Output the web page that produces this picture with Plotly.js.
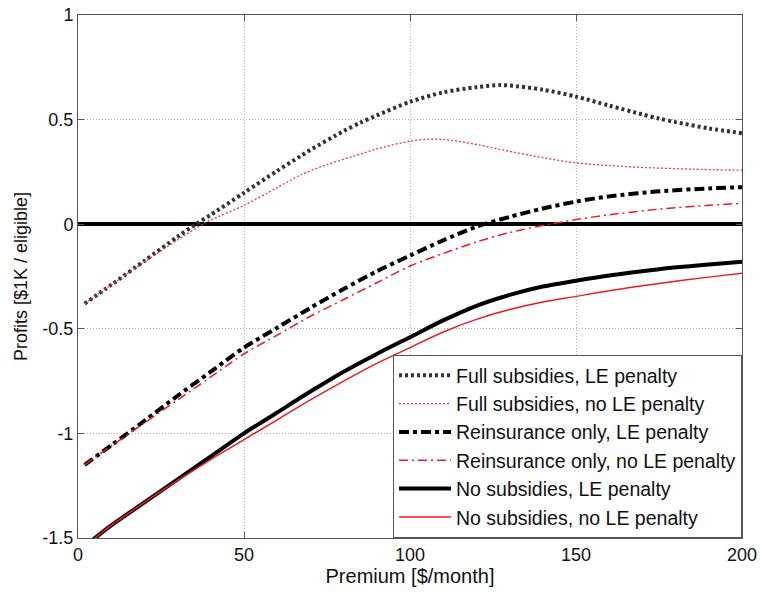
<!DOCTYPE html>
<html>
<head>
<meta charset="utf-8">
<script src="https://cdn.plot.ly/plotly-3.0.1.min.js"></script>
<style>
  html, body { margin: 0; padding: 0; background: #fff; }
  #chart { width: 761px; height: 595px; }
</style>
</head>
<body>
<div id="chart"></div>
<script>
// ---- Data ----
const premiumFullLE = [2, 10, 20, 30, 35.5, 40, 50, 60, 67, 70, 80, 85, 90, 100, 110, 120, 127, 130, 140, 150, 160, 170, 175, 180, 190, 200];
const profitFullLE = [-0.38, -0.29, -0.175, -0.06, 0, 0.045, 0.15, 0.255, 0.325, 0.355, 0.445, 0.485, 0.52, 0.585, 0.63, 0.655, 0.665, 0.663, 0.643, 0.61, 0.567, 0.525, 0.505, 0.488, 0.458, 0.435];

const premiumFullNoLE = [2, 10, 20, 30, 37.6, 40, 50, 60, 67, 75, 85, 90, 100, 106, 110, 115, 121, 127, 140, 150, 160, 172, 185, 200];
const profitFullNoLE = [-0.38, -0.29, -0.18, -0.075, 0, 0.02, 0.09, 0.175, 0.235, 0.285, 0.335, 0.36, 0.397, 0.407, 0.405, 0.395, 0.378, 0.358, 0.318, 0.293, 0.28, 0.27, 0.263, 0.258];

const premiumReinsLE = [2, 10, 20, 30, 40, 50, 60, 70, 80, 90, 100, 110, 120, 130, 140, 150, 160, 175, 190, 200];
const profitReinsLE = [-1.15, -1.057, -0.94, -0.82, -0.705, -0.59, -0.495, -0.4, -0.31, -0.225, -0.15, -0.077, -0.012, 0.035, 0.075, 0.108, 0.133, 0.157, 0.171, 0.177];

const premiumReinsNoLE = [2, 10, 20, 30, 40, 50, 60, 70, 80, 90, 100, 110, 120, 130, 142, 150, 160, 175, 190, 200];
const profitReinsNoLE = [-1.15, -1.06, -0.95, -0.84, -0.73, -0.62, -0.53, -0.44, -0.36, -0.28, -0.2, -0.14, -0.085, -0.04, 0.0, 0.022, 0.045, 0.072, 0.09, 0.10];

const premiumNoSubLE = [2, 10, 20, 30, 40, 50, 60, 70, 80, 90, 100, 110, 120, 130, 140, 150, 160, 175, 190, 200];
const profitNoSubLE = [-1.54, -1.44, -1.33, -1.22, -1.11, -1.0, -0.9, -0.8, -0.705, -0.62, -0.54, -0.46, -0.39, -0.338, -0.298, -0.27, -0.245, -0.215, -0.193, -0.18];

const premiumNoSubNoLE = [2, 10, 20, 30, 40, 50, 60, 70, 80, 90, 100, 110, 120, 130, 140, 150, 160, 175, 190, 200];
const profitNoSubNoLE = [-1.54, -1.44, -1.33, -1.225, -1.125, -1.03, -0.935, -0.84, -0.75, -0.665, -0.59, -0.515, -0.455, -0.408, -0.372, -0.345, -0.318, -0.283, -0.253, -0.235];

const seriesNames = [
  "Full subsidies, LE penalty",
  "Full subsidies, no LE penalty",
  "Reinsurance only, LE penalty",
  "Reinsurance only, no LE penalty",
  "No subsidies, LE penalty",
  "No subsidies, no LE penalty"
];

const xTickVals = [0, 50, 100, 150, 200];
const xTickText = ["0", "50", "100", "150", "200"];
const yTickVals = [1, 0.5, 0, -0.5, -1, -1.5];
const yTickText = ["1", "0.5", "0", "-0.5", "-1", "-1.5"];

// ---- Traces ----
const FONT = "Liberation Sans, Arial, sans-serif";
function tr(x, y, name, color, width, dash) {
  return {
    type: "scatter", mode: "lines", x: x, y: y, name: name,
    line: { color: color, width: width, dash: dash, shape: "spline", smoothing: 0.8 }
  };
}
const data = [
  tr(premiumFullLE, profitFullLE, seriesNames[0], "#333333", 4, "3px,3px"),
  tr(premiumFullNoLE, profitFullNoLE, seriesNames[1], "#ee3a3a", 1.3, "2px,2px"),
  tr(premiumReinsLE, profitReinsLE, seriesNames[2], "#000000", 4, "10px,4px,4px,4px"),
  tr(premiumReinsNoLE, profitReinsNoLE, seriesNames[3], "#ee1c1c", 1.5, "9px,4px,2px,4px"),
  tr(premiumNoSubLE, profitNoSubLE, seriesNames[4], "#000000", 4, "solid"),
  tr(premiumNoSubNoLE, profitNoSubNoLE, seriesNames[5], "#ee1c1c", 1.5, "solid")
];

const axisCommon = {
  showline: true, linecolor: "#555", linewidth: 1, mirror: "ticks",
  ticks: "inside", ticklen: 6, tickcolor: "#555", tickwidth: 1,
  showgrid: true, gridcolor: "#b0b0b0", gridwidth: 1, griddash: "1px,2px",
  tickfont: { family: FONT, size: 18, color: "#111" }
};

const layout = {
  width: 761, height: 595,
  margin: { l: 78, r: 19, t: 15, b: 57 },
  paper_bgcolor: "#fff", plot_bgcolor: "#fff",
  font: { family: FONT, color: "#111" },
  showlegend: true,
  legend: {
    x: 1, y: 0, xanchor: "right", yanchor: "bottom",
    bgcolor: "#fff", bordercolor: "#555", borderwidth: 1,
    font: { family: FONT, size: 19.5, color: "#111" },
    itemwidth: 52,
    tracegroupgap: 0
  },
  xaxis: Object.assign({}, axisCommon, {
    range: [0, 200], tickmode: "array", tickvals: xTickVals, ticktext: xTickText,
    zeroline: false,
    title: { text: "Premium [$/month]", font: { family: FONT, size: 20, color: "#111" }, standoff: 4 }
  }),
  yaxis: Object.assign({}, axisCommon, {
    range: [-1.5, 1], tickmode: "array", tickvals: yTickVals, ticktext: yTickText,
    zeroline: true, zerolinecolor: "#000", zerolinewidth: 4,
    title: { text: "Profits [$1K / eligible]", font: { family: FONT, size: 18, color: "#111" }, standoff: 10 }
  })
};

Plotly.newPlot("chart", data, layout, { staticPlot: true, displayModeBar: false });
</script>
</body>
</html>
